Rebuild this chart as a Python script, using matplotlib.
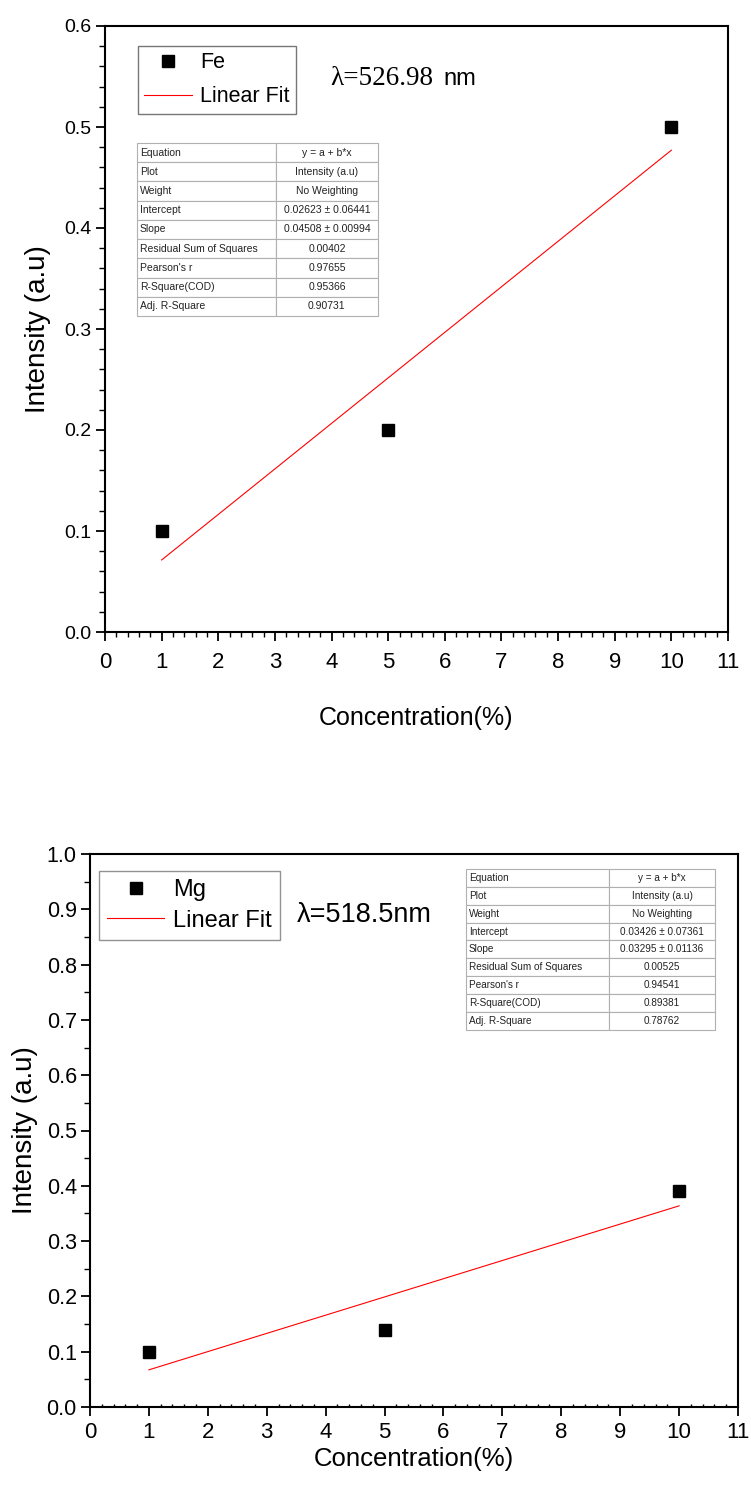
import matplotlib
matplotlib.use("Agg")
import matplotlib.pyplot as plt
from matplotlib.ticker import MultipleLocator, FormatStrFormatter
import numpy as np

plt.rcParams['font.family'] = ['Liberation Sans', 'DejaVu Sans']

# ---- data ----
fe_conc = [1, 5, 10]
fe_int = [0.1, 0.2, 0.5]
fe_intercept = 0.02623
fe_slope = 0.04508
fe_table_labels = ["Equation", "Plot", "Weight", "Intercept", "Slope",
                   "Residual Sum of Squares", "Pearson's r", "R-Square(COD)", "Adj. R-Square"]
fe_table_values = ["y = a + b*x", "Intensity (a.u)", "No Weighting", "0.02623 \u00b1 0.06441",
                   "0.04508 \u00b1 0.00994", "0.00402", "0.97655", "0.95366", "0.90731"]

mg_conc = [1, 5, 10]
mg_int = [0.1, 0.14, 0.39]
mg_intercept = 0.03426
mg_slope = 0.03295
mg_table_labels = fe_table_labels
mg_table_values = ["y = a + b*x", "Intensity (a.u)", "No Weighting", "0.03426 \u00b1 0.07361",
                   "0.03295 \u00b1 0.01136", "0.00525", "0.94541", "0.89381", "0.78762"]

W, H = 751, 1493
fig = plt.figure(figsize=(W / 100, H / 100), dpi=100)


def ax_rect(l, t, r, b):
    return [l / W, 1 - b / H, (r - l) / W, (b - t) / H]


def style(ax, ymax, ymaj, ymin, fs_y, fs_x, xpad, xminor_len):
    ax.set_xlim(0, 11)
    ax.set_ylim(0, ymax)
    ax.xaxis.set_major_locator(MultipleLocator(1))
    ax.xaxis.set_minor_locator(MultipleLocator(0.2))
    ax.yaxis.set_major_locator(MultipleLocator(ymaj))
    ax.yaxis.set_minor_locator(MultipleLocator(ymin))
    ax.yaxis.set_major_formatter(FormatStrFormatter('%.1f'))
    for s in ax.spines.values():
        s.set_linewidth(1.5)
    ax.tick_params(which='major', direction='out', length=6.5, width=1.3, pad=3)
    ax.tick_params(axis='y', which='major', labelsize=fs_y)
    ax.tick_params(axis='x', which='major', labelsize=fs_x, pad=xpad)
    ax.tick_params(which='minor', direction='out', length=4, width=1.0)
    ax.tick_params(axis='x', which='minor', length=xminor_len)
    ax.tick_params(top=False, right=False, which='both')


def add_table(ax, labels, values, bbox, fs):
    cells = [[a, b] for a, b in zip(labels, values)]
    tb = ax.table(cellText=cells, bbox=bbox, colWidths=[0.575, 0.425], zorder=5)
    tb.auto_set_font_size(False)
    tb.set_fontsize(fs)
    for (r, c), cell in tb.get_celld().items():
        cell.set_edgecolor('#b0b0b0')
        cell.set_linewidth(0.8)
        cell.get_text().set_color('#222222')
        if c == 0:
            cell.get_text().set_ha('left')
            cell.PAD = 0.02
        else:
            cell.get_text().set_ha('center')
    return tb


# ---- top: Fe ----
ax1 = fig.add_axes(ax_rect(105, 26, 728, 632))
style(ax1, 0.6, 0.1, 0.02, 14, 16, 8, 3.5)
ax1.plot(fe_conc, fe_int, 's', color='black', markersize=8.5, label='Fe', zorder=4)
xf = np.array([min(fe_conc), max(fe_conc)])
ax1.plot(xf, fe_intercept + fe_slope * xf, '-', color='red', lw=0.8, label='Linear Fit')
ax1.set_xlabel('Concentration(%)', fontsize=18, labelpad=24)
ax1.set_ylabel('Intensity (a.u)', fontsize=20, labelpad=10)
leg1 = ax1.legend(loc='upper left', bbox_to_anchor=(0.053, 0.967), fontsize=15.5, frameon=True,
                  fancybox=False, edgecolor='#555555', handlelength=2.2, handletextpad=0.4,
                  borderpad=0.3, labelspacing=0.6, borderaxespad=0)
leg1.get_frame().set_linewidth(1.0)
ax1.text(0.362, 0.913, '\u03bb=526.98', transform=ax1.transAxes, fontsize=19.5,
         family=['Liberation Serif', 'DejaVu Serif'], va='center', ha='left')
ax1.text(0.5425, 0.913, 'nm', transform=ax1.transAxes, fontsize=17, va='center', ha='left')
add_table(ax1, fe_table_labels, fe_table_values, [0.0514, 0.5215, 0.387, 0.2855], 7.5)

# ---- bottom: Mg ----
ax2 = fig.add_axes(ax_rect(90, 854, 738, 1407))
style(ax2, 1.0, 0.1, 0.05, 15.5, 16, 4, 2.5)
ax2.tick_params(axis='x', which='minor', direction='in')
ax2.plot(mg_conc, mg_int, 's', color='black', markersize=8.5, label='Mg', zorder=4)
xm = np.array([min(mg_conc), max(mg_conc)])
ax2.plot(xm, mg_intercept + mg_slope * xm, '-', color='red', lw=0.8, label='Linear Fit')
ax2.set_xlabel('Concentration(%)', fontsize=18.5, labelpad=3)
ax2.set_ylabel('Intensity (a.u)', fontsize=20, labelpad=6)
leg2 = ax2.legend(loc='upper left', bbox_to_anchor=(0.014, 0.969), fontsize=17, frameon=True,
                  fancybox=False, edgecolor='#777777', handlelength=2.4, handletextpad=0.4,
                  borderpad=0.35, labelspacing=0.35, borderaxespad=0)
leg2.get_frame().set_linewidth(1.0)
ax2.text(0.319, 0.89, '\u03bb=518.5nm', transform=ax2.transAxes, fontsize=19.5,
         va='center', ha='left')
add_table(ax2, mg_table_labels, mg_table_values, [0.580, 0.682, 0.3845, 0.291], 7.2)

fig.savefig('out.png', dpi=100)
